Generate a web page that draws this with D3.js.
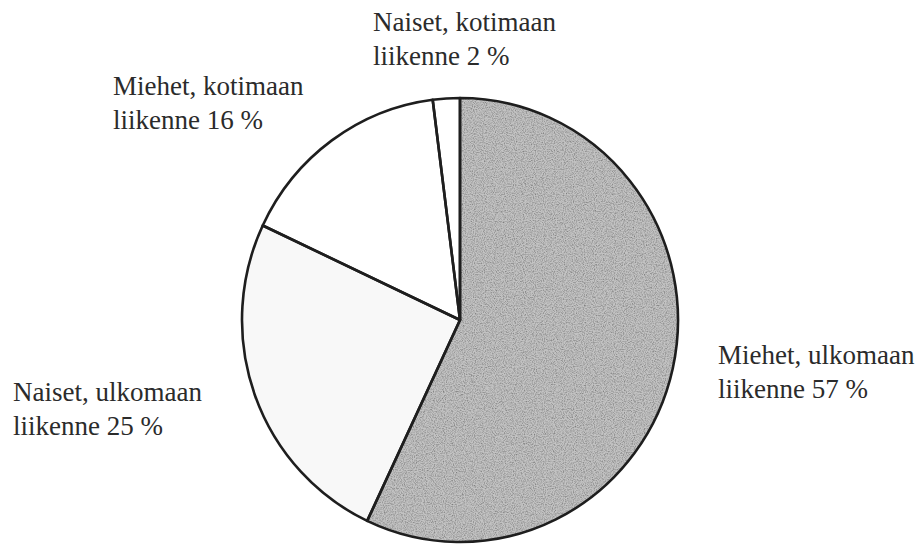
<!DOCTYPE html>
<html>
<head>
<meta charset="utf-8">
<script src="https://cdn.jsdelivr.net/npm/d3@7"></script>
<style>
html,body{margin:0;padding:0;background:#fff;}
svg{display:block;}
text{font-family:"Liberation Serif","Times New Roman",serif;fill:#2b2b2b;}
</style>
</head>
<body>
<svg id="chart" width="922" height="546"></svg>
<script>
const categories = ["Miehet, ulkomaan liikenne", "Naiset, ulkomaan liikenne", "Miehet, kotimaan liikenne", "Naiset, kotimaan liikenne"];
const labelLine1 = ["Miehet, ulkomaan", "Naiset, ulkomaan", "Miehet, kotimaan", "Naiset, kotimaan"];
const labelLine2 = ["liikenne 57 %", "liikenne 25 %", "liikenne 16 %", "liikenne 2 %"];
const values = [57, 25, 16, 2];
const fills = ["#c3c3c3", "#f8f8f8", "#ffffff", "#ffffff"];
const labelX = [718, 13, 113, 373];
const labelY = [364, 401, 95, 31];

const svg = d3.select("#chart");
const cx = 460, cy = 320, rx = 218, ry = 222;

const defs = svg.append("defs");
const f = defs.append("filter").attr("id","grain").attr("x","0").attr("y","0").attr("width","1").attr("height","1");
f.append("feTurbulence").attr("type","fractalNoise").attr("baseFrequency","0.9").attr("numOctaves","2").attr("seed","3").attr("result","noise");
f.append("feColorMatrix").attr("in","noise").attr("type","matrix")
  .attr("values","0 0 0 0 0  0 0 0 0 0  0 0 0 0 0  0 0 0 -1.2 0.75").attr("result","dots");
f.append("feComposite").attr("in","dots").attr("in2","SourceGraphic").attr("operator","in").attr("result","dotsIn");
f.append("feMerge").selectAll("feMergeNode").data(["SourceGraphic","dotsIn"]).join("feMergeNode").attr("in",d=>d);

const pie = d3.pie().sort(null).value(d => d)(values);
const arc = d3.arc().innerRadius(0).outerRadius(rx);

const g = svg.append("g").attr("transform", `translate(${cx},${cy}) scale(1,${ry/rx})`);

g.selectAll("path.fill").data(pie).join("path")
  .attr("class","fill")
  .attr("d", arc)
  .attr("fill", (d,i) => fills[i])
  .attr("filter", (d,i) => i === 0 ? "url(#grain)" : null);

g.selectAll("path.edge").data(pie).join("path")
  .attr("class","edge")
  .attr("d", arc)
  .attr("fill","none")
  .attr("stroke","#1e1e1e")
  .attr("stroke-width",2.6)
  .attr("stroke-linejoin","round")
  .attr("vector-effect","non-scaling-stroke");

const lab = svg.append("g").selectAll("text").data(categories).join("text")
  .attr("x", (d,i) => labelX[i])
  .attr("y", (d,i) => labelY[i])
  .attr("font-size", 27);
lab.append("tspan").text((d,i) => labelLine1[i]);
lab.append("tspan").attr("x", (d,i) => labelX[i]).attr("dy", 34).text((d,i) => labelLine2[i]);
</script>
</body>
</html>
